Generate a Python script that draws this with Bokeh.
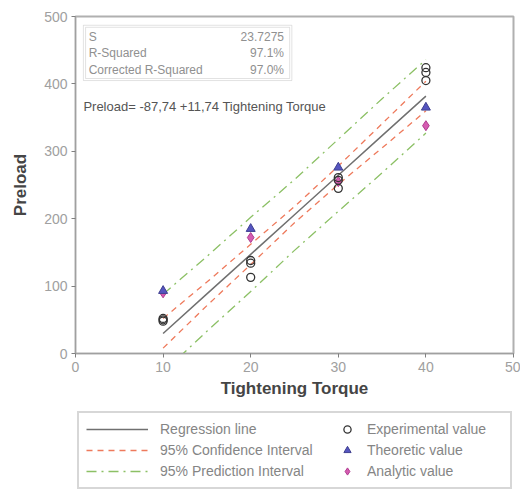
from bokeh.plotting import figure
from bokeh.models import Range1d, Legend, LegendItem, BoxAnnotation, Label
from bokeh.layouts import column
from bokeh.embed import file_html
from bokeh.resources import INLINE

# ---- data ----
exp_x = [10, 10, 10, 20, 20, 20, 30, 30, 30, 40, 40, 40]
exp_y = [52, 50, 48, 138, 134, 113, 261, 257, 245, 424, 417, 405]
theo_x = [10, 20, 30, 40]
theo_y = [93, 185, 276, 365]
ana_x = [10, 20, 30, 40]
ana_y = [90, 172, 255, 338]

band_x = [10, 15, 20, 25, 30, 35, 40]
reg_y = [29.7, 88.4, 147.1, 205.8, 264.5, 323.2, 381.9]
ci_upper = [52, 106, 162, 218, 278, 341, 404]
ci_lower = [8, 71, 132, 194, 251, 305, 360]
pi_upper = [88, 144, 202, 258, 318, 378, 436]
pi_lower = [-28, 33, 92, 153, 211, 268, 327]

stat_names = ["S", "R-Squared", "Corrected R-Squared"]
stat_values = ["23.7275", "97.1%", "97.0%"]
equation = "Preload= -87,74 +11,74 Tightening Torque"

x_ticks = [0, 10, 20, 30, 40, 50]
y_ticks = [0, 100, 200, 300, 400, 500]

line_labels = ["Regression line", "95% Confidence Interval", "95% Prediction Interval"]
point_labels = ["Experimental value", "Theoretic value", "Analytic value"]

FONT = "Liberation Sans"
REG = dict(line_color="#707070", line_width=1.5)
CI = dict(line_color="#ee7a5c", line_width=1.3, line_dash="6 5")
PI = dict(line_color="#8cc065", line_width=1.3, line_dash="10 5 2 5")
ANA = dict(marker="diamond", size=10, fill_color="#d04aa8", line_color="#b03a90", fill_alpha=0.9)
THEO = dict(marker="triangle", size=9, fill_color="#5555c0", line_color="#404090")
EXP = dict(marker="circle", size=8, fill_color=None, line_color="#333333", line_width=1.3)

p = figure(frame_width=438, frame_height=337, output_backend="svg",
           toolbar_location=None, x_range=Range1d(0, 50), y_range=Range1d(0, 500),
           min_border_left=75, min_border_top=16, min_border_right=7,
           min_border_bottom=47)
p.xgrid.visible = False
p.ygrid.visible = False
p.outline_line_color = "#b0b0b0"
p.outline_line_width = 2
p.background_fill_color = "white"

for ax in (p.xaxis[0], p.yaxis[0]):
    ax.axis_line_color = "#a0a0a0"
    ax.major_tick_line_color = "#808080"
    ax.minor_tick_line_color = "#a0a0a0"
    ax.major_tick_out = 4
    ax.major_tick_in = 0
    ax.minor_tick_out = 2
    ax.minor_tick_in = 2
    ax.major_label_text_color = "#a0a0a0"
    ax.major_label_text_font = FONT
    ax.major_label_text_font_size = "14px"
    ax.axis_label_text_font = FONT
    ax.axis_label_text_font_style = "bold"
    ax.axis_label_text_color = "#454545"

p.xaxis.ticker = x_ticks
p.yaxis.ticker = y_ticks
p.xaxis[0].ticker.num_minor_ticks = 10
p.yaxis[0].ticker.num_minor_ticks = 10
p.xaxis.axis_label = "Tightening Torque"
p.yaxis.axis_label = "Preload"
p.xaxis.axis_label_text_font_size = "17px"
p.yaxis.axis_label_text_font_size = "17px"
p.xaxis.major_label_standoff = 4
p.xaxis.axis_label_standoff = 4
p.yaxis.major_label_standoff = 4
p.yaxis.axis_label_standoff = 11

# lines
p.line(band_x, reg_y, **REG)
p.line(band_x, ci_upper, **CI)
p.line(band_x, ci_lower, **CI)
p.line(band_x, pi_upper, **PI)
p.line(band_x, pi_lower, **PI)

# points
p.scatter(ana_x, ana_y, **ANA)
p.scatter(theo_x, theo_y, **THEO)
p.scatter(exp_x, exp_y, **EXP)

# stats box
p.add_layout(BoxAnnotation(left=0.9, right=24.7, top=487, bottom=405,
                           fill_alpha=0, line_color="#a0a0a0", line_width=1))
p.add_layout(BoxAnnotation(left=1.15, right=24.45, top=484, bottom=408,
                           fill_alpha=0, line_color="#a0a0a0", line_width=1))
for i, (n, v) in enumerate(zip(stat_names, stat_values)):
    yy = 470 - i * 24.5
    p.add_layout(Label(x=1.5, y=yy, text=n, text_baseline="middle",
                       text_font=FONT, text_font_size="12px", text_color="#909090"))
    p.add_layout(Label(x=23.8, y=yy, text=v, text_baseline="middle", text_align="right",
                       text_font=FONT, text_font_size="12px", text_color="#909090"))
p.add_layout(Label(x=0.9, y=366, text=equation, text_baseline="middle",
                   text_font=FONT, text_font_size="13px", text_color="#555555"))

# legend panel (separate figure below the chart; its ranges keep the
# proxy renderers out of view so only the legend shows)
p2 = figure(width=520, height=90, output_backend="svg", toolbar_location=None,
            x_axis_type=None, y_axis_type=None,
            x_range=Range1d(1000, 1001), y_range=Range1d(1000, 1001),
            min_border_left=0, min_border_right=0, min_border_top=0, min_border_bottom=0)
p2.outline_line_color = None
l_reg = p2.line(band_x, reg_y, **REG)
l_ci = p2.line(band_x, ci_upper, **CI)
l_pi = p2.line(band_x, pi_upper, **PI)
l_exp = p2.scatter(exp_x, exp_y, **EXP)
l_theo = p2.scatter(theo_x, theo_y, **THEO)
l_ana = p2.scatter(ana_x, ana_y, **ANA)

leg1 = Legend(items=[LegendItem(label=t, renderers=[r])
                     for t, r in zip(line_labels, [l_reg, l_ci, l_pi])],
              location=(2, 1), orientation="vertical",
              border_line_color="#b0b0b0", border_line_width=2,
              padding=7, spacing=3, glyph_width=62, glyph_height=18,
              label_height=18, label_width=343, label_standoff=12, margin=0,
              label_text_font=FONT, label_text_font_size="14px",
              label_text_color="#858585")
leg2 = Legend(items=[LegendItem(label=t, renderers=[r])
                     for t, r in zip(point_labels, [l_exp, l_theo, l_ana])],
              location=(262, 10), orientation="vertical",
              border_line_alpha=0, background_fill_alpha=0,
              padding=0, spacing=3, glyph_width=20, glyph_height=18,
              label_height=18, label_standoff=10, margin=0,
              label_text_font=FONT, label_text_font_size="14px",
              label_text_color="#858585")
p2.add_layout(leg1)
p2.add_layout(leg2)

layout = column(p, p2, spacing=0)
open("out.html", "w").write(file_html(layout, INLINE))
